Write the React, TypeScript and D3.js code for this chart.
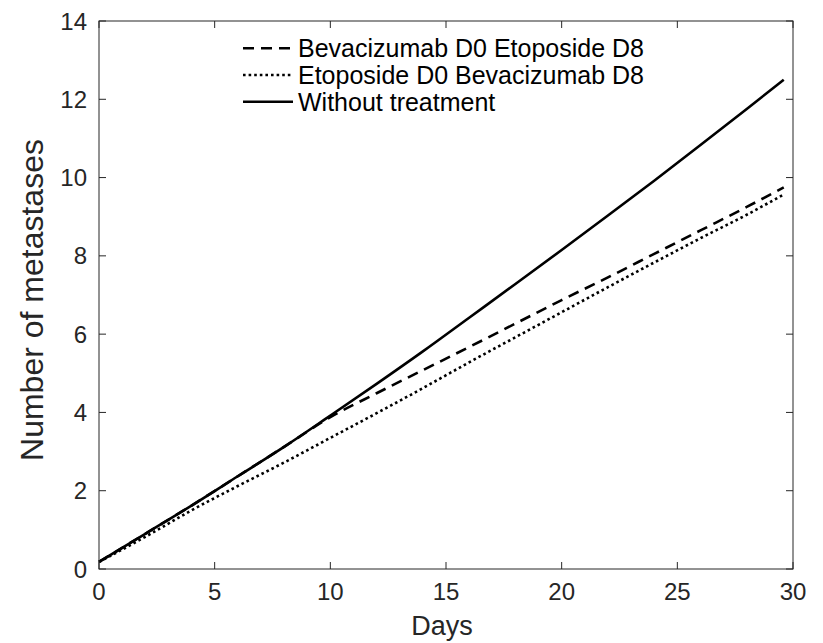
import React from "react";
import * as d3 from "d3";

const days = [0, 2, 4, 6, 8, 10, 12, 14, 16, 18, 20, 22, 24, 26, 28, 29.6];
const bevaFirst = [0.18, 0.9, 1.62, 2.37, 3.12, 3.88, 4.49, 5.08, 5.67, 6.27, 6.87, 7.45, 8.05, 8.65, 9.25, 9.75];
const etoFirst = [0.18, 0.82, 1.5, 2.12, 2.72, 3.35, 3.98, 4.62, 5.28, 5.92, 6.56, 7.2, 7.83, 8.45, 9.05, 9.57];
const noTreatment = [0.18, 0.9, 1.62, 2.37, 3.12, 3.92, 4.73, 5.56, 6.42, 7.28, 8.15, 9.03, 9.92, 10.83, 11.75, 12.5];
const xTicks = [0, 5, 10, 15, 20, 25, 30];
const yTicks = [0, 2, 4, 6, 8, 10, 12, 14];
const seriesNames = ["Bevacizumab D0 Etoposide D8", "Etoposide D0 Bevacizumab D8", "Without treatment"];

const W = 823, H = 643;
const L = 99, R = 793, T = 21, B = 569;
const FONT = "'Liberation Sans', Arial, Helvetica, sans-serif";
const AX = "#262626";

export default function App() {
  const x = d3.scaleLinear().domain([0, 30]).range([L, R]);
  const y = d3.scaleLinear().domain([0, 14]).range([B, T]);
  const line = d3.line<number>().x((_, i) => x(days[i])).y((d) => y(d)).curve(d3.curveMonotoneX);
  const series = [
    { vals: bevaFirst, dash: "11,7", w: 2.6 },
    { vals: etoFirst, dash: "2.6,3", w: 2.6 },
    { vals: noTreatment, dash: "", w: 2.6 },
  ];
  const tick = 7;
  return (
    <svg width={W} height={H} style={{ position: "absolute", left: 0, top: 0, background: "#fff" }} fontFamily={FONT}>
      <rect x={0} y={0} width={W} height={H} fill="#fff" />
      {series.map((s, i) => (
        <path key={i} d={line(s.vals) || ""} fill="none" stroke="#000" strokeWidth={s.w} strokeDasharray={s.dash || undefined} />
      ))}
      <rect x={L} y={T} width={R - L} height={B - T} fill="none" stroke={AX} strokeWidth={1} />
      {xTicks.map((t) => (
        <g key={"x" + t}>
          <line x1={x(t)} x2={x(t)} y1={B} y2={B - tick} stroke={AX} />
          <line x1={x(t)} x2={x(t)} y1={T} y2={T + tick} stroke={AX} />
          <text x={x(t)} y={600} textAnchor="middle" fontSize={24} fill={AX}>{t}</text>
        </g>
      ))}
      {yTicks.map((t) => (
        <g key={"y" + t}>
          <line x1={L} x2={L + tick} y1={y(t)} y2={y(t)} stroke={AX} />
          <line x1={R} x2={R - tick} y1={y(t)} y2={y(t)} stroke={AX} />
          <text x={87} y={y(t) + 8.5} textAnchor="end" fontSize={24} fill={AX}>{t}</text>
        </g>
      ))}
      <text x={442} y={635} textAnchor="middle" fontSize={27} fill={AX}>Days</text>
      <text transform={`translate(43,${(T + B) / 2 + 5}) rotate(-90)`} textAnchor="middle" fontSize={32} fill={AX}>Number of metastases</text>
      {seriesNames.map((n, i) => {
        const cy = 48.3 + i * 26.7;
        const s = series[i];
        return (
          <g key={n}>
            <line x1={243} x2={293} y1={cy} y2={cy} stroke="#000" strokeWidth={s.w} strokeDasharray={s.dash || undefined} />
            <text x={298} y={cy + 9} fontSize={25} fill="#000">{n}</text>
          </g>
        );
      })}
    </svg>
  );
}
